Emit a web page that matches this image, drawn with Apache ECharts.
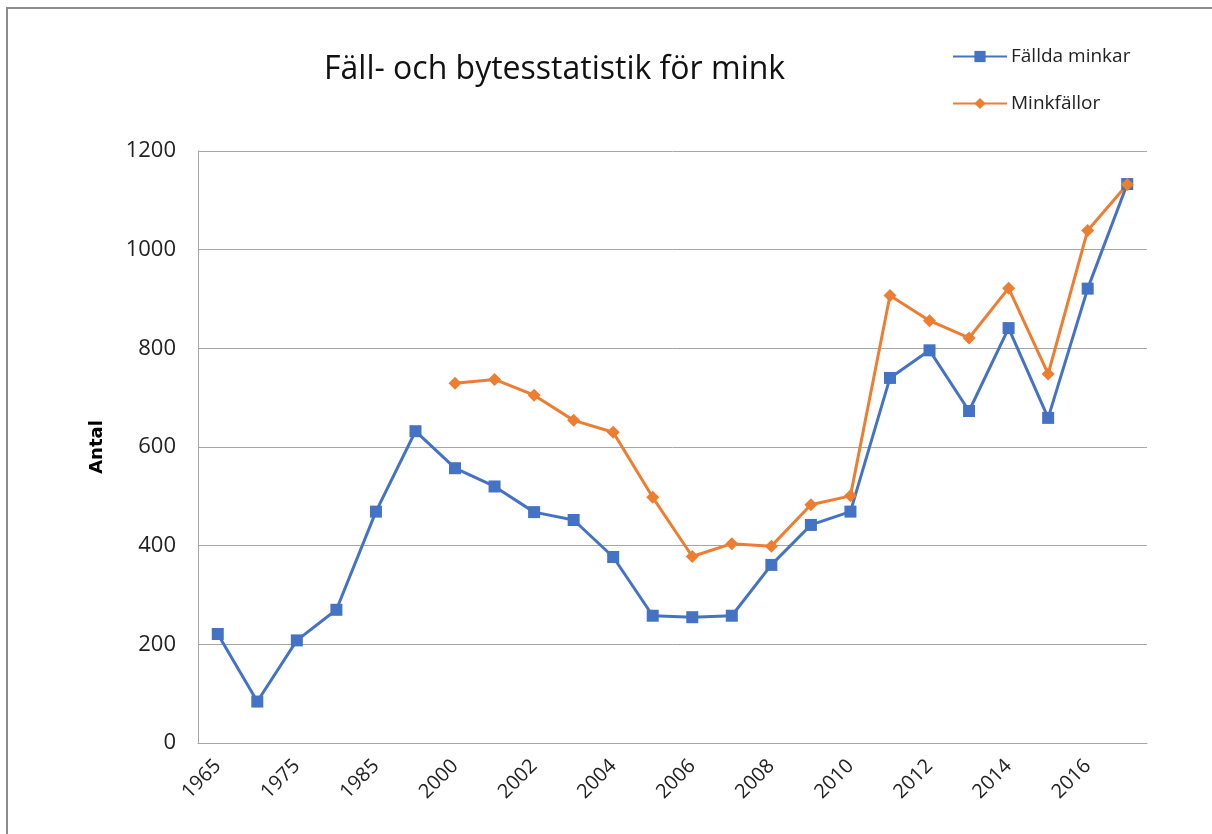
<!DOCTYPE html>
<html>
<head>
<meta charset="utf-8">
<script src="https://cdn.jsdelivr.net/npm/echarts@6/dist/echarts.min.js"></script>
<style>
  html, body { margin: 0; padding: 0; background: #fff; }
  #main { width: 1212px; height: 834px; }
</style>
</head>
<body>
<div id="main"></div>
<script>
// kategorier (år)
var years = ['1965', '1970', '1975', '1980', '1985', '1990',
    '2000', '2001', '2002', '2003', '2004', '2005', '2006', '2007', '2008',
    '2009', '2010', '2011', '2012', '2013', '2014', '2015', '2016', '2017'];

// Fällda minkar
var fallda = [221, 84, 208, 270, 469, 632,
    557, 520, 468, 452, 377, 258, 255, 258, 361,
    442, 469, 740, 796, 673, 841, 659, 921, 1133];

// Minkfällor (saknas före 2000)
var fallor = [null, null, null, null, null, null,
    729, 737, 705, 654, 630, 498, 378, 404, 399,
    483, 501, 907, 856, 821, 922, 748, 1039, 1132];

var yTicks = [0, 200, 400, 600, 800, 1000, 1200];

var chart = echarts.init(document.getElementById('main'));

var option = {
    animation: false,
    backgroundColor: '#fff',
    title: {
        text: 'Fäll- och bytesstatistik för mink',
        left: 319,
        top: 49,
        textStyle: {
            fontFamily: 'Open Sans',
            fontSize: 32,
            fontWeight: 'normal',
            color: '#111'
        }
    },
    legend: {
        orient: 'vertical',
        left: 952,
        top: 47,
        padding: 0,
        itemWidth: 54,
        itemHeight: 14,
        itemGap: 28,
        textStyle: {
            fontFamily: 'Open Sans',
            fontSize: 19,
            color: '#222',
            padding: [0, 0, 0, -1]
        },
        data: ['Fällda minkar', 'Minkfällor']
    },
    graphic: [{
        type: 'rect',
        shape: { x: 7, y: 8, width: 1300, height: 900 },
        style: { fill: 'none', stroke: '#8c8c8c', lineWidth: 2 },
        silent: true
    }],
    grid: {
        left: 198,
        right: 65,
        top: 151,
        bottom: 91
    },
    xAxis: {
        type: 'category',
        data: years,
        boundaryGap: true,
        axisLine: { lineStyle: { color: '#a6a6a6', width: 1 } },
        axisTick: { show: false },
        axisLabel: {
            interval: 1,
            rotate: 45,
            margin: 20,
            fontFamily: 'Open Sans',
            fontSize: 20,
            color: '#222'
        }
    },
    yAxis: {
        type: 'value',
        min: yTicks[0],
        max: yTicks[yTicks.length - 1],
        interval: 200,
        name: 'Antal',
        nameLocation: 'middle',
        nameGap: 92,
        nameTextStyle: {
            fontFamily: 'DejaVu Sans',
            fontWeight: 'bold',
            fontSize: 18,
            color: '#000'
        },
        axisLine: { show: true, lineStyle: { color: '#a6a6a6', width: 1 } },
        axisTick: { show: false },
        splitLine: { lineStyle: { color: '#a6a6a6', width: 1 } },
        axisLabel: {
            margin: 22,
            fontFamily: 'Open Sans',
            fontSize: 22,
            color: '#222',
            formatter: function (v) { return String(v); }
        }
    },
    series: [{
        name: 'Fällda minkar',
        type: 'line',
        data: fallda,
        symbol: 'rect',
        symbolSize: 12,
        color: '#4472C4',
        lineStyle: { width: 3, color: '#4472C4' },
        itemStyle: { color: '#4472C4' }
    }, {
        name: 'Minkfällor',
        type: 'line',
        data: fallor,
        symbol: 'diamond',
        symbolSize: 13,
        color: '#ED7D31',
        lineStyle: { width: 3, color: '#ED7D31' },
        itemStyle: { color: '#ED7D31' }
    }]
};

chart.setOption(option);
</script>
</body>
</html>
